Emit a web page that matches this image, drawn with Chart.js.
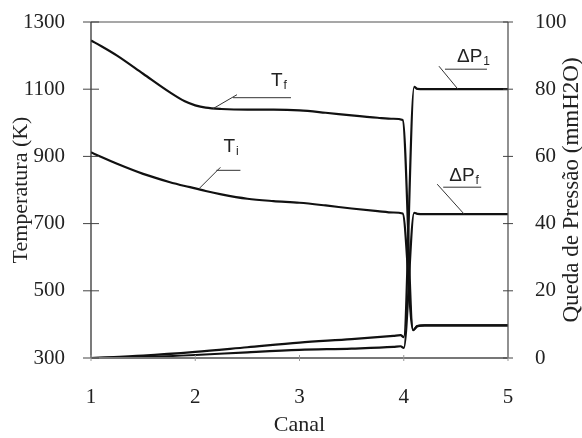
<!DOCTYPE html>
<html><head><meta charset="utf-8">
<script src="https://cdn.jsdelivr.net/npm/chart.js@4/dist/chart.umd.min.js"></script>
<style>html,body{margin:0;padding:0;background:#fff}#wrap{width:582px;height:438px}</style>
</head><body><div id="wrap"><canvas id="c" width="582" height="438"></canvas></div>
<script>
// ---- data ----
const canalT = [1.0, 1.1, 1.25, 1.5, 1.75, 1.9, 2.0, 2.1, 2.25, 2.5, 2.75, 3.0, 3.25, 3.5, 3.75, 3.9, 3.99, 4.09, 4.13, 4.2, 5.0];
const tempTf = [1245, 1228, 1200, 1146, 1092, 1064, 1052, 1045, 1041, 1039, 1039, 1037, 1030, 1022, 1015, 1012, 1008, 383, 395, 397, 397];
const tempTi = [912, 898, 878, 848, 824, 812, 805, 797, 787, 774, 767, 762, 754, 745, 737, 733, 730, 383, 395, 397, 397];
const canalP = [1.0, 1.5, 2.0, 2.5, 3.0, 3.5, 3.9, 3.97, 4.0, 4.1, 4.13, 4.2, 5.0];
const presP1 = [0, 0.7, 1.8, 3.2, 4.6, 5.6, 6.6, 6.8, 6.2, 80.7, 80.1, 80, 80];
const presPf = [0, 0.3, 0.9, 1.7, 2.4, 2.8, 3.3, 3.5, 3.0, 43.2, 42.9, 42.8, 42.8];
const canalTicks = [1, 2, 3, 4, 5];
const tempTicks = [300, 500, 700, 900, 1100, 1300];
const presTicks = [0, 20, 40, 60, 80, 100];

const pts = (xs, ys) => xs.map((x, i) => ({x, y: ys[i]}));
const serif = "'Liberation Serif','Times New Roman',serif";
const sans = "'Liberation Sans',Arial,sans-serif";

const lineStyle = {borderColor: '#111', borderWidth: 2.2, pointRadius: 0, fill: false, cubicInterpolationMode: 'monotone'};

// annotation labels: anchor (data coords) on the curve + pixel offsets of leader & text
const labels = [
  {axis: 'y', x: 2.17, y: 1042, main: 'T', sub: 'f', dx1: 22, dy1: -11, len: 58, tx: 52, ty: -12},
  {axis: 'y', x: 2.04, y: 805, main: 'T', sub: 'i', dx1: 19, dy1: -18, len: 24, tx: 21, ty: -18},
  {axis: 'y1', x: 4.52, y: 80, main: '\u0394P', sub: '1', dx1: -17, dy1: -20, len: 42, tx: 26, ty: -7},
  {axis: 'y1', x: 4.58, y: 42.8, main: '\u0394P', sub: 'f', dx1: -25, dy1: -27, len: 38, tx: 20, ty: -6}
];

const decor = {
  id: 'decor',
  afterDraw(chart) {
    const ctx = chart.ctx, a = chart.chartArea;
    const sx = chart.scales.x, sy = chart.scales.y, sy1 = chart.scales.y1;
    const ln = (x1, y1, x2, y2) => { ctx.beginPath(); ctx.moveTo(x1, y1); ctx.lineTo(x2, y2); ctx.stroke(); };
    ctx.save();
    // frame
    ctx.strokeStyle = '#8a8a8a'; ctx.lineWidth = 1.3;
    ln(a.left, a.top, a.right, a.top);
    ctx.strokeStyle = '#777'; ctx.lineWidth = 2;
    ln(a.left, a.bottom, a.right, a.bottom);
    ctx.strokeStyle = '#333'; ctx.lineWidth = 1.3;
    ln(a.left, a.top, a.left, a.bottom);
    ctx.strokeStyle = '#555';
    ln(a.right, a.top, a.right, a.bottom);
    // crossing tick marks
    ctx.strokeStyle = '#444'; ctx.lineWidth = 1;
    tempTicks.forEach(v => { const p = sy.getPixelForValue(v); ln(a.left - 8, p, a.left + 8, p); });
    presTicks.forEach(v => { const p = sy1.getPixelForValue(v); ln(a.right - 5, p, a.right + 5, p); });
    ctx.strokeStyle = '#999';
    canalTicks.forEach(v => { const p = sx.getPixelForValue(v); ln(p, a.bottom - 3, p, a.bottom + 3); });
    // right axis title (reads bottom to top)
    ctx.fillStyle = '#222';
    ctx.font = '23px ' + serif;
    ctx.translate(572, (a.top + a.bottom) / 2);
    ctx.rotate(-Math.PI / 2);
    ctx.textAlign = 'center'; ctx.textBaseline = 'middle';
    ctx.fillText('Queda de Press\u00e3o (mmH2O)', 0, 0);
    ctx.setTransform(1, 0, 0, 1, 0, 0);
    // curve labels with leader lines
    labels.forEach(L => {
      const px = sx.getPixelForValue(L.x), py = chart.scales[L.axis].getPixelForValue(L.y);
      const cx = px + L.dx1, cy = py + L.dy1;
      ctx.strokeStyle = '#333'; ctx.lineWidth = 1;
      ln(px, py, cx - (L.dx1 > 0 ? -2 : 2), cy - 3);
      const hx = L.dx1 > 0 ? cx - 2 : cx + 4;
      ln(hx, cy, hx + L.len, cy);
      ctx.fillStyle = '#222';
      ctx.textAlign = 'left'; ctx.textBaseline = 'alphabetic';
      ctx.font = '19px ' + sans;
      const tX = hx + L.tx - 14, tY = cy + L.ty;
      ctx.fillText(L.main, tX, tY);
      const w = ctx.measureText(L.main).width;
      ctx.font = '12px ' + sans;
      ctx.fillText(L.sub, tX + w + 1, tY + 3);
    });
    ctx.restore();
  }
};

const plain = v => String(v);
const fitY = w => s => { s.width = w; s.paddingTop = 0; s.paddingBottom = 0; };

new Chart(document.getElementById('c'), {
  type: 'line',
  data: {
    datasets: [
      {label: 'Tf', data: pts(canalT, tempTf), yAxisID: 'y', ...lineStyle},
      {label: 'Ti', data: pts(canalT, tempTi), yAxisID: 'y', ...lineStyle},
      {label: '\u0394P1', data: pts(canalP, presP1), yAxisID: 'y1', ...lineStyle},
      {label: '\u0394Pf', data: pts(canalP, presPf), yAxisID: 'y1', ...lineStyle}
    ]
  },
  options: {
    responsive: false, animation: false, devicePixelRatio: 1,
    layout: {padding: {top: 22, left: 0, right: 0, bottom: 0}},
    plugins: {legend: {display: false}, tooltip: {enabled: false}},
    scales: {
      x: {
        type: 'linear', min: 1, max: 5,
        afterBuildTicks: s => { s.ticks = canalTicks.map(v => ({value: v})); },
        afterFit: s => { s.height = 80; s.paddingLeft = 0; s.paddingRight = 0; },
        grid: {display: false}, border: {display: false},
        ticks: {color: '#222', font: {family: serif, size: 21}, padding: 19, maxRotation: 0, callback: plain},
        title: {display: true, text: 'Canal', color: '#222', font: {family: serif, size: 22}, padding: {top: 0, bottom: 0}}
      },
      y: {
        position: 'left', min: 300, max: 1300,
        afterBuildTicks: s => { s.ticks = tempTicks.map(v => ({value: v})); },
        afterFit: fitY(91),
        grid: {display: false}, border: {display: false},
        ticks: {color: '#222', font: {family: serif, size: 21}, padding: 18, callback: plain},
        title: {display: true, text: 'Temperatura (K)', color: '#222', font: {family: serif, size: 22}, padding: {top: 8, bottom: 0}}
      },
      y1: {
        position: 'right', min: 0, max: 100,
        afterBuildTicks: s => { s.ticks = presTicks.map(v => ({value: v})); },
        afterFit: fitY(74),
        grid: {display: false}, border: {display: false},
        ticks: {color: '#222', font: {family: serif, size: 21}, padding: 19, callback: plain}
      }
    }
  },
  plugins: [decor]
});
</script></body></html>
